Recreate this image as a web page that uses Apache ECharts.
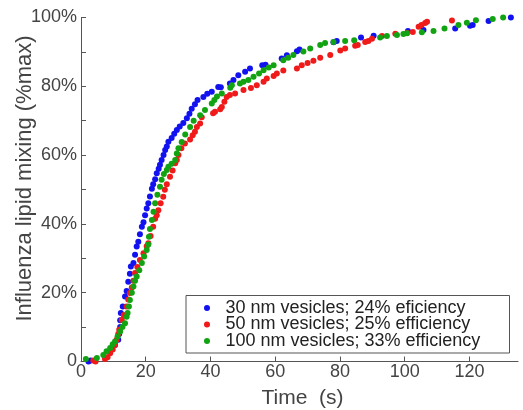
<!DOCTYPE html>
<html>
<head>
<meta charset="utf-8">
<script src="https://cdn.jsdelivr.net/npm/echarts@6/dist/echarts.min.js"></script>
<style>html,body{margin:0;padding:0;background:#fff;}#c{width:523px;height:410px;}</style>
</head>
<body>
<div id="c"></div>
<script>
var seriesNames = ['30 nm vesicles; 24% eficiency', '50 nm vesicles; 25% efficiency', '100 nm vesicles; 33% efficiency'];
var xTicks = [0, 20, 40, 60, 80, 100, 120];
var yTicks = [0, 20, 40, 60, 80, 100];

var blue30 = [[2.3,0],[3.0,0.3],[9.5,3.5],[10.5,4.8],[11.5,6.3],[11.8,8],[12.1,10],[12.1,12],[12.3,14.1],[12.9,16],[13.6,18.9],[14.1,20.5],[14.6,23.2],[15.1,25.5],[15.4,27.6],[16.2,28.6],[16.7,31],[17.2,33.4],[17.7,34.8],[18.2,37],[18.8,39.2],[19.3,40.5],[19.8,42.5],[20.3,44.5],[20.8,46],[21.3,48],[21.9,50.2],[22.3,51.5],[22.9,53],[23.4,54.7],[24.0,56],[24.4,57.2],[24.9,58.6],[25.5,60],[26.0,61.5],[26.5,62.5],[27,63.9],[28,65],[28.8,66.2],[29.6,67.3],[30.5,68.3],[31.6,69.3],[32.7,70.7],[33.5,72],[34.2,73.5],[35.2,74.8],[36,76],[37.8,76.9],[39,77.8],[40.4,78.4],[42.4,79.8],[43.2,79.7],[46,80.8],[47.1,81.8],[48.6,83.2],[50.7,84.2],[52.2,85.2],[56,86.1],[57,86.3],[62,88.1],[63.6,89],[66.7,90.2],[67.5,90.7],[78,92.8],[79,93.2],[86.5,94.2],[90.4,94.7],[101,96.1],[105.8,96.4],[115.6,96.8],[120.2,97.6],[121,97.8],[125.9,99],[132.8,100]];

var red50 = [[3.8,0.3],[4.5,0],[7.4,0.7],[8.2,1.2],[9,2.4],[9.8,3.5],[10.5,4.8],[11,6.3],[11.5,8],[11.8,9.2],[12.6,12.1],[13.2,13.5],[14.1,16],[14.6,18],[15.1,19.9],[15.7,21.5],[16.2,23.5],[16.7,25.7],[17.4,27.5],[18.2,29.5],[19.3,31.5],[20.3,33.5],[20.8,34.4],[21.5,36.5],[22.3,39.2],[22.9,41.5],[23.4,42.5],[23.9,44],[24.6,46],[25.4,47.9],[25.9,49.9],[26.5,51.5],[27.5,53.7],[28.3,55.5],[29.1,57.6],[29.6,58.6],[30.1,60],[31,62],[32.1,63.4],[33.7,64.5],[34.5,65.8],[35.2,66.8],[35.8,68.2],[36.8,69.2],[37.3,71],[40.8,72.2],[41.4,72.6],[43,73.3],[43.5,74],[44.3,75.5],[45,76.9],[46,77.5],[47.6,77.9],[50.2,78.9],[52.5,79.5],[54.3,80.3],[56.4,81.3],[57.4,82.3],[59.5,83],[60.5,83.7],[62.5,84.6],[66.7,85.2],[68.2,86.1],[70,86.8],[71.8,87.4],[73.9,88.3],[77,89.1],[80.1,90.4],[81.6,91],[84.7,91.8],[85.5,92],[87.8,92.9],[88.8,93.2],[89.9,93.8],[93,94.6],[97.1,95.3],[100.7,95.5],[102.5,95.8],[104.3,97.3],[105.2,97.8],[106.3,98.4],[106.9,98.8],[114.6,99.1],[135.5,100]];

var green100 = [[1.5,0.7],[4.9,1],[6.9,1.9],[7.9,3],[9,3.9],[9.8,5],[10.5,5.8],[11.3,7.3],[12.1,8.7],[12.8,10],[13.6,11.1],[14.1,13],[14.4,14.1],[14.8,16],[15.1,17.9],[15.7,20],[16.2,21.8],[16.7,23.5],[17.2,24.7],[18,26.5],[18.8,28.6],[19.5,30.5],[20.3,32.4],[20.8,34],[21.0,36.3],[21.3,38.5],[21.9,41.1],[22.4,43.5],[22.9,46],[23.6,48.5],[24.4,50.8],[24.9,52.8],[25.6,54.5],[26.5,55.7],[27,56.6],[28,57.5],[29.1,58.6],[29.6,60.5],[30.1,62],[31.1,63.8],[32.2,66],[33.7,68.2],[34.8,70],[36.8,71.6],[38.3,73.1],[40.4,75],[41.2,76],[42,77],[43.5,77.9],[46.1,79.6],[46.6,80.3],[49.1,80.8],[50.2,81.3],[51.7,81.8],[53.3,82.8],[55,83.7],[56.4,84.7],[58,85.5],[59.5,86.1],[62.5,87.6],[64,88.3],[65.6,89.1],[68.7,90.1],[70.8,91],[73.9,92],[75.4,92.6],[78,92.9],[81.6,93.2],[84.4,93.4],[92.4,94.2],[94.5,94.6],[97.6,94.9],[99.6,95.2],[100.7,95.4],[105.3,95.7],[108.9,96.1],[112.3,96.8],[116.6,97.8],[119.2,98.5],[122,99.2],[127.2,99.6],[130.4,100]];

var colors = ['#1212f0', '#f01a1a', '#12a312'];
var font = '"Liberation Sans", Arial, Helvetica, sans-serif';

var chart = echarts.init(document.getElementById('c'), null, {renderer: 'canvas'});
chart.setOption({
  animation: false,
  backgroundColor: '#fff',
  grid: {left: 81, right: 5, top: 17.5, bottom: 48.5, containLabel: false, outerBoundsMode: 'none'},
  xAxis: {
    type: 'value', min: 0, max: 135, interval: 20,
    name: 'Time  (s)', nameLocation: 'middle', nameGap: 26, nameMoveOverlap: false,
    nameTextStyle: {fontFamily: font, fontSize: 21, color: '#444', padding: [0, 0, 0, 6]},
    axisLine: {show: true, lineStyle: {color: '#555', width: 1}},
    axisTick: {show: true, inside: true, length: 5, lineStyle: {color: '#555'}},
    axisLabel: {margin: 2, fontFamily: font, fontSize: 18, color: '#444', showMaxLabel: false,
      formatter: function (v) { return xTicks.indexOf(v) >= 0 ? String(v) : ''; }},
    splitLine: {show: false}
  },
  yAxis: {
    type: 'value', min: 0, max: 100, interval: 20,
    name: 'Influenza lipid mixing (%max)', nameLocation: 'middle', nameGap: 45, nameMoveOverlap: false,
    nameTextStyle: {fontFamily: font, fontSize: 22, color: '#444', padding: [0, 0, 0, 22]},
    axisLine: {show: true, lineStyle: {color: '#555', width: 1}},
    axisTick: {show: true, inside: true, length: 5, lineStyle: {color: '#555'}},
    minorTick: {show: true, splitNumber: 2, length: 5, lineStyle: {color: '#555'}},
    axisLabel: {margin: 4, fontFamily: font, fontSize: 18, color: '#444',
      formatter: function (v) { return yTicks.indexOf(v) >= 0 ? (v === 0 ? '0' : v + '%') : ''; }},
    splitLine: {show: false}
  },
  legend: {
    orient: 'vertical', left: 204, top: 299, itemWidth: 27, itemHeight: 6, itemGap: -1.5,
    padding: 0,
    icon: 'circle',
    textStyle: {fontFamily: font, fontSize: 18, color: '#222', lineHeight: 17},
    data: seriesNames
  },
  graphic: [{
    type: 'rect', left: 185.5, top: 295, z: -1,
    shape: {x: 0, y: 0, width: 323.5, height: 57.5},
    style: {fill: '#fff', stroke: '#555', lineWidth: 1}
  }],
  series: [
    {name: seriesNames[0], type: 'scatter', data: blue30, symbol: 'circle', symbolSize: 6, itemStyle: {color: colors[0], opacity: 1}},
    {name: seriesNames[1], type: 'scatter', data: red50, symbol: 'circle', symbolSize: 6, itemStyle: {color: colors[1], opacity: 1}},
    {name: seriesNames[2], type: 'scatter', data: green100, symbol: 'circle', symbolSize: 6, itemStyle: {color: colors[2], opacity: 1}}
  ]
});
</script>
</body>
</html>
